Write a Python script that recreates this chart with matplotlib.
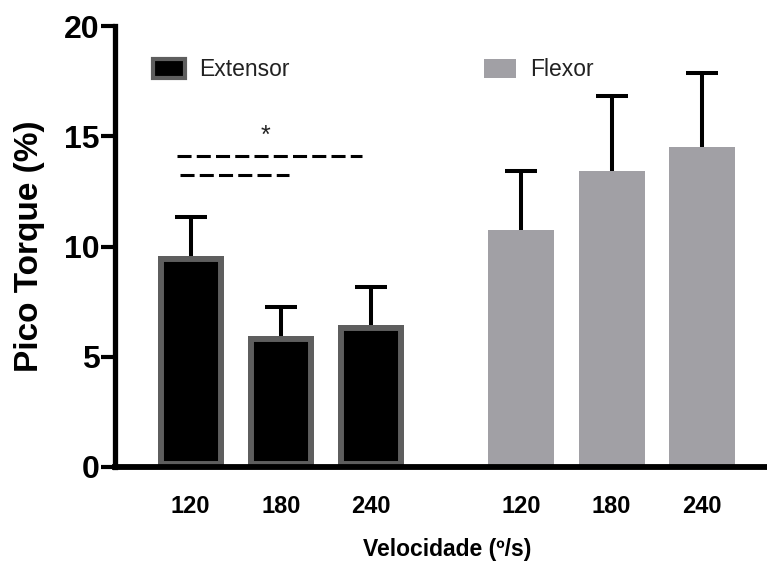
import matplotlib
matplotlib.use("Agg")
import matplotlib.pyplot as plt
from matplotlib.patches import Rectangle
import numpy as np

plt.rcParams['font.family'] = ['Liberation Sans', 'DejaVu Sans']

# ---- data ----
velocities = ["120", "180", "240"]
extensor = [9.57, 5.94, 6.44]
extensor_err = [1.77, 1.32, 1.72]
flexor = [10.75, 13.42, 14.51]
flexor_err = [2.67, 3.41, 3.36]
# significance comparisons (x start, x end, level)
sig_lines = [(-0.15, 1.90, 14.1), (-0.12, 1.09, 13.24)]
sig_star = (0.825, 15.0, "*")

ext_x = np.array([0, 1, 2], dtype=float)
flex_x = ext_x + 3.66
width = 0.73

fig = plt.figure(figsize=(7.67, 5.61), dpi=100)
ax = fig.add_axes([115/767, 1 - 467/561, 652/767, 441/561])

ext_col = "black"
ext_edge = "#5e5e5e"
flex_col = "#a1a0a5"

# error bars (upper only)
for xs, vals, errs in [(ext_x, extensor, extensor_err), (flex_x, flexor, flexor_err)]:
    eb = ax.errorbar(xs, vals, yerr=[np.zeros(3), errs], fmt='none', ecolor='black',
                     elinewidth=2.9, capsize=11.5, capthick=2.9, zorder=3)
    eb[1][0].set_visible(False)

bars = ax.bar(ext_x, extensor, width=width, color=ext_col, edgecolor=ext_edge,
              linewidth=8.6, zorder=2)
for b in bars:
    b.set_clip_path(b)
ax.bar(flex_x, flexor, width=width, color=flex_col, edgecolor='none', zorder=2)

# significance markers
for x0, x1, y in sig_lines:
    ax.plot([x0, x1], [y, y], color='black', lw=2.2, dashes=(4.6, 1.7),
            solid_capstyle='butt', dash_capstyle='butt', zorder=4)
ax.text(sig_star[0], sig_star[1], sig_star[2], fontsize=18, ha='center', va='center',
        color='#222222')

ax.set_ylim(0, 20)
ax.set_xlim(-0.836, 6.38)

for s in ['top', 'right']:
    ax.spines[s].set_visible(False)
ax.spines['left'].set_linewidth(3.8)
ax.spines['bottom'].set_linewidth(4.2)

ax.set_yticks([0, 5, 10, 15, 20])
ax.tick_params(axis='y', length=10, width=3, pad=1, labelsize=23)
for lab in ax.get_yticklabels():
    lab.set_fontweight('bold')

ax.set_xticks(np.concatenate([ext_x, flex_x]))
ax.set_xticklabels(velocities + velocities, fontsize=17, fontweight='bold')
ax.tick_params(axis='x', which='major', length=0, pad=20)
ax.set_xticks([ext_x[1], flex_x[1]], minor=True)
ax.tick_params(axis='x', which='minor', length=10, width=5, direction='out')

ax.set_ylabel("Pico Torque (%)", fontsize=24, fontweight='bold')
ax.yaxis.set_label_coords(-0.107, 0.5)
ax.set_xlabel("Velocidade (º/s)", fontsize=16.5, fontweight='bold')
ax.xaxis.set_label_coords(0.509, -0.188)
ax.xaxis.label.set_va('center')

# legends
h_ext = Rectangle((0, 0), 1, 1, facecolor=ext_col, edgecolor=ext_edge, linewidth=3)
h_flex = Rectangle((0, 0), 1, 1, facecolor=flex_col, edgecolor='none')
common = dict(loc='center left', frameon=False, fontsize=16.5, handlelength=1.4,
              handleheight=0.88, handletextpad=0.62, borderpad=0, borderaxespad=0)
leg1 = ax.legend([h_ext], ["Extensor"],
                 bbox_to_anchor=((153 - 115) / 652, (467 - 70) / 441), **common)
for t in leg1.get_texts():
    t.set_color('#222222')
ax.add_artist(leg1)
leg2 = ax.legend([h_flex], ["Flexor"],
                 bbox_to_anchor=((484 - 115) / 652, (467 - 70) / 441), **common)
for t in leg2.get_texts():
    t.set_color('#222222')

fig.savefig("out.png", dpi=100)
